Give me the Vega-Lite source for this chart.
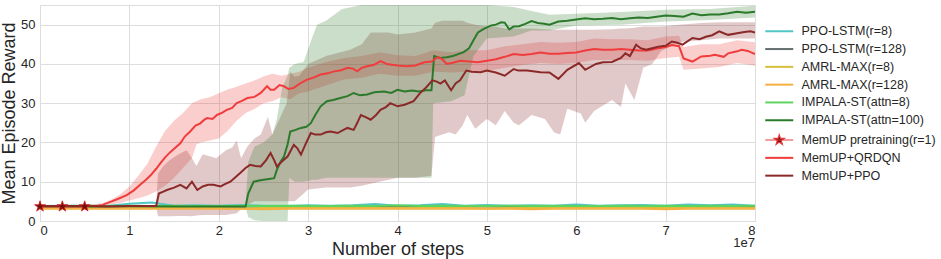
{
  "$schema": "https://vega.github.io/schema/vega-lite/v6.json",
  "width": 715,
  "height": 216,
  "autosize": {"type": "none"},
  "padding": {"left": 40, "top": 5, "right": 186, "bottom": 38},
  "background": "white",
  "config": {
    "font": "Liberation Sans",
    "view": {"stroke": "#dddddd"},
    "axis": {"gridColor": "#dddddd", "gridWidth": 1, "ticks": false, "domain": false, "labelColor": "#262626", "titleColor": "#262626", "titleFontWeight": "normal", "labelFontSize": 13, "titleFontSize": 18}
  },
  "datasets": {
    "bands": [
      {"series":"MemUP+QRDQN","step":0,"lo":3.5,"hi":4.1},
      {"series":"MemUP+QRDQN","step":0.5,"lo":3.5,"hi":4.1},
      {"series":"MemUP+QRDQN","step":0.7,"lo":3.8,"hi":4.5},
      {"series":"MemUP+QRDQN","step":0.8,"lo":4.2,"hi":5.5},
      {"series":"MemUP+QRDQN","step":0.9,"lo":4.6,"hi":6.8},
      {"series":"MemUP+QRDQN","step":1.0,"lo":5.2,"hi":8.8},
      {"series":"MemUP+QRDQN","step":1.1,"lo":5.8,"hi":11.5},
      {"series":"MemUP+QRDQN","step":1.2,"lo":6.5,"hi":14.5},
      {"series":"MemUP+QRDQN","step":1.3,"lo":7.5,"hi":19.0},
      {"series":"MemUP+QRDQN","step":1.4,"lo":9.0,"hi":23.0},
      {"series":"MemUP+QRDQN","step":1.5,"lo":11.0,"hi":25.5},
      {"series":"MemUP+QRDQN","step":1.6,"lo":13.5,"hi":27.5},
      {"series":"MemUP+QRDQN","step":1.7,"lo":16.0,"hi":30.0},
      {"series":"MemUP+QRDQN","step":1.75,"lo":19.5,"hi":30.5},
      {"series":"MemUP+QRDQN","step":1.8,"lo":20.0,"hi":31.0},
      {"series":"MemUP+QRDQN","step":1.9,"lo":20.5,"hi":31.5},
      {"series":"MemUP+QRDQN","step":2.0,"lo":21.0,"hi":32.5},
      {"series":"MemUP+QRDQN","step":2.1,"lo":23.0,"hi":33.5},
      {"series":"MemUP+QRDQN","step":2.2,"lo":25.5,"hi":34.2},
      {"series":"MemUP+QRDQN","step":2.3,"lo":27.5,"hi":35.0},
      {"series":"MemUP+QRDQN","step":2.4,"lo":28.5,"hi":35.8},
      {"series":"MemUP+QRDQN","step":2.5,"lo":30.0,"hi":36.8},
      {"series":"MemUP+QRDQN","step":2.6,"lo":30.5,"hi":37.5},
      {"series":"MemUP+QRDQN","step":2.7,"lo":31.5,"hi":37.0},
      {"series":"MemUP+QRDQN","step":2.8,"lo":31.0,"hi":37.5},
      {"series":"MemUP+QRDQN","step":2.9,"lo":32.5,"hi":38.0},
      {"series":"MemUP+QRDQN","step":3.0,"lo":33.0,"hi":39.0},
      {"series":"MemUP+QRDQN","step":3.2,"lo":34.5,"hi":40.5},
      {"series":"MemUP+QRDQN","step":3.4,"lo":36.0,"hi":41.5},
      {"series":"MemUP+QRDQN","step":3.6,"lo":36.5,"hi":42.0},
      {"series":"MemUP+QRDQN","step":3.8,"lo":37.5,"hi":43.0},
      {"series":"MemUP+QRDQN","step":4.0,"lo":37.0,"hi":42.2},
      {"series":"MemUP+QRDQN","step":4.2,"lo":37.0,"hi":42.0},
      {"series":"MemUP+QRDQN","step":4.4,"lo":38.0,"hi":43.5},
      {"series":"MemUP+QRDQN","step":4.6,"lo":37.8,"hi":43.0},
      {"series":"MemUP+QRDQN","step":4.8,"lo":38.0,"hi":43.5},
      {"series":"MemUP+QRDQN","step":5.0,"lo":38.2,"hi":43.5},
      {"series":"MemUP+QRDQN","step":5.2,"lo":39.0,"hi":44.5},
      {"series":"MemUP+QRDQN","step":5.4,"lo":39.7,"hi":45.0},
      {"series":"MemUP+QRDQN","step":5.6,"lo":40.2,"hi":45.6},
      {"series":"MemUP+QRDQN","step":5.8,"lo":40.0,"hi":45.4},
      {"series":"MemUP+QRDQN","step":6.0,"lo":40.2,"hi":45.6},
      {"series":"MemUP+QRDQN","step":6.2,"lo":41.0,"hi":46.5},
      {"series":"MemUP+QRDQN","step":6.4,"lo":41.0,"hi":46.3},
      {"series":"MemUP+QRDQN","step":6.6,"lo":41.0,"hi":46.3},
      {"series":"MemUP+QRDQN","step":6.8,"lo":40.8,"hi":46.0},
      {"series":"MemUP+QRDQN","step":7.0,"lo":41.5,"hi":47.0},
      {"series":"MemUP+QRDQN","step":7.15,"lo":41.8,"hi":47.2},
      {"series":"MemUP+QRDQN","step":7.2,"lo":38.5,"hi":44.3},
      {"series":"MemUP+QRDQN","step":7.4,"lo":38.8,"hi":45.0},
      {"series":"MemUP+QRDQN","step":7.6,"lo":39.2,"hi":45.0},
      {"series":"MemUP+QRDQN","step":7.8,"lo":40.2,"hi":46.0},
      {"series":"MemUP+QRDQN","step":8.0,"lo":39.5,"hi":45.5},

      {"series":"MemUP+PPO","step":1.3,"lo":3.5,"hi":4.0},
      {"series":"MemUP+PPO","step":1.32,"lo":1.2,"hi":12.0},
      {"series":"MemUP+PPO","step":1.38,"lo":1.2,"hi":14.0},
      {"series":"MemUP+PPO","step":1.45,"lo":1.2,"hi":15.5},
      {"series":"MemUP+PPO","step":1.55,"lo":1.3,"hi":17.0},
      {"series":"MemUP+PPO","step":1.64,"lo":1.3,"hi":18.0},
      {"series":"MemUP+PPO","step":1.7,"lo":1.2,"hi":16.0},
      {"series":"MemUP+PPO","step":1.75,"lo":1.4,"hi":14.0},
      {"series":"MemUP+PPO","step":1.82,"lo":1.5,"hi":17.0},
      {"series":"MemUP+PPO","step":1.9,"lo":1.5,"hi":16.5},
      {"series":"MemUP+PPO","step":1.97,"lo":1.5,"hi":16.0},
      {"series":"MemUP+PPO","step":2.08,"lo":1.5,"hi":18.0},
      {"series":"MemUP+PPO","step":2.15,"lo":1.8,"hi":18.7},
      {"series":"MemUP+PPO","step":2.2,"lo":2.0,"hi":20.5},
      {"series":"MemUP+PPO","step":2.25,"lo":3.0,"hi":16.0},
      {"series":"MemUP+PPO","step":2.32,"lo":4.0,"hi":19.0},
      {"series":"MemUP+PPO","step":2.4,"lo":5.0,"hi":21.0},
      {"series":"MemUP+PPO","step":2.47,"lo":5.0,"hi":22.0},
      {"series":"MemUP+PPO","step":2.55,"lo":5.0,"hi":26.5},
      {"series":"MemUP+PPO","step":2.6,"lo":5.0,"hi":22.0},
      {"series":"MemUP+PPO","step":2.7,"lo":5.0,"hi":27.0},
      {"series":"MemUP+PPO","step":2.76,"lo":5.0,"hi":30.0},
      {"series":"MemUP+PPO","step":2.8,"lo":5.0,"hi":38.0},
      {"series":"MemUP+PPO","step":2.85,"lo":5.0,"hi":36.7},
      {"series":"MemUP+PPO","step":2.9,"lo":6.0,"hi":37.0},
      {"series":"MemUP+PPO","step":3.0,"lo":8.0,"hi":40.0},
      {"series":"MemUP+PPO","step":3.2,"lo":8.5,"hi":42.0},
      {"series":"MemUP+PPO","step":3.47,"lo":8.5,"hi":43.6},
      {"series":"MemUP+PPO","step":3.6,"lo":9.0,"hi":45.0},
      {"series":"MemUP+PPO","step":3.7,"lo":9.5,"hi":48.0},
      {"series":"MemUP+PPO","step":3.9,"lo":10.5,"hi":48.0},
      {"series":"MemUP+PPO","step":4.0,"lo":11.0,"hi":47.5},
      {"series":"MemUP+PPO","step":4.2,"lo":11.0,"hi":48.0},
      {"series":"MemUP+PPO","step":4.38,"lo":11.5,"hi":49.0},
      {"series":"MemUP+PPO","step":4.42,"lo":21.4,"hi":50.5},
      {"series":"MemUP+PPO","step":4.5,"lo":22.0,"hi":51.0},
      {"series":"MemUP+PPO","step":4.58,"lo":22.6,"hi":51.0},
      {"series":"MemUP+PPO","step":4.65,"lo":22.0,"hi":51.0},
      {"series":"MemUP+PPO","step":4.73,"lo":24.4,"hi":51.0},
      {"series":"MemUP+PPO","step":4.78,"lo":27.0,"hi":50.5},
      {"series":"MemUP+PPO","step":4.87,"lo":23.5,"hi":50.0},
      {"series":"MemUP+PPO","step":5.0,"lo":26.0,"hi":49.5},
      {"series":"MemUP+PPO","step":5.1,"lo":24.4,"hi":49.5},
      {"series":"MemUP+PPO","step":5.2,"lo":28.0,"hi":49.0},
      {"series":"MemUP+PPO","step":5.3,"lo":25.0,"hi":49.0},
      {"series":"MemUP+PPO","step":5.36,"lo":24.4,"hi":49.0},
      {"series":"MemUP+PPO","step":5.5,"lo":27.0,"hi":49.0},
      {"series":"MemUP+PPO","step":5.65,"lo":26.0,"hi":48.8},
      {"series":"MemUP+PPO","step":5.75,"lo":22.6,"hi":48.7},
      {"series":"MemUP+PPO","step":5.82,"lo":22.0,"hi":48.7},
      {"series":"MemUP+PPO","step":5.9,"lo":28.6,"hi":48.7},
      {"series":"MemUP+PPO","step":6.05,"lo":27.4,"hi":48.7},
      {"series":"MemUP+PPO","step":6.1,"lo":25.0,"hi":48.7},
      {"series":"MemUP+PPO","step":6.2,"lo":28.0,"hi":48.7},
      {"series":"MemUP+PPO","step":6.4,"lo":30.8,"hi":48.8},
      {"series":"MemUP+PPO","step":6.5,"lo":29.0,"hi":49.0},
      {"series":"MemUP+PPO","step":6.55,"lo":35.0,"hi":49.0},
      {"series":"MemUP+PPO","step":6.65,"lo":30.8,"hi":49.2},
      {"series":"MemUP+PPO","step":6.75,"lo":39.0,"hi":49.5},
      {"series":"MemUP+PPO","step":6.85,"lo":40.0,"hi":49.5},
      {"series":"MemUP+PPO","step":6.95,"lo":43.3,"hi":49.5},
      {"series":"MemUP+PPO","step":7.15,"lo":45.5,"hi":50.0},
      {"series":"MemUP+PPO","step":7.4,"lo":46.0,"hi":50.4},
      {"series":"MemUP+PPO","step":7.6,"lo":46.5,"hi":50.6},
      {"series":"MemUP+PPO","step":8.0,"lo":46.5,"hi":50.6},

      {"series":"IMPALA-ST(attn=100)","step":2.3,"lo":3.5,"hi":4.0},
      {"series":"IMPALA-ST(attn=100)","step":2.33,"lo":1.0,"hi":15.0},
      {"series":"IMPALA-ST(attn=100)","step":2.4,"lo":0.2,"hi":19.0},
      {"series":"IMPALA-ST(attn=100)","step":2.5,"lo":0.0,"hi":20.0},
      {"series":"IMPALA-ST(attn=100)","step":2.6,"lo":0.0,"hi":22.0},
      {"series":"IMPALA-ST(attn=100)","step":2.65,"lo":0.0,"hi":26.0},
      {"series":"IMPALA-ST(attn=100)","step":2.71,"lo":0.0,"hi":34.0},
      {"series":"IMPALA-ST(attn=100)","step":2.77,"lo":0.0,"hi":37.0},
      {"series":"IMPALA-ST(attn=100)","step":2.79,"lo":11.0,"hi":39.0},
      {"series":"IMPALA-ST(attn=100)","step":2.85,"lo":10.0,"hi":40.0},
      {"series":"IMPALA-ST(attn=100)","step":2.95,"lo":10.0,"hi":40.5},
      {"series":"IMPALA-ST(attn=100)","step":3.05,"lo":10.5,"hi":47.0},
      {"series":"IMPALA-ST(attn=100)","step":3.1,"lo":10.5,"hi":50.0},
      {"series":"IMPALA-ST(attn=100)","step":3.2,"lo":11.0,"hi":51.0},
      {"series":"IMPALA-ST(attn=100)","step":3.38,"lo":11.0,"hi":54.0},
      {"series":"IMPALA-ST(attn=100)","step":3.6,"lo":11.0,"hi":55.0},
      {"series":"IMPALA-ST(attn=100)","step":4.38,"lo":11.0,"hi":55.0},
      {"series":"IMPALA-ST(attn=100)","step":4.4,"lo":30.0,"hi":55.0},
      {"series":"IMPALA-ST(attn=100)","step":4.6,"lo":30.5,"hi":55.0},
      {"series":"IMPALA-ST(attn=100)","step":4.75,"lo":32.0,"hi":55.0},
      {"series":"IMPALA-ST(attn=100)","step":4.85,"lo":42.0,"hi":55.0},
      {"series":"IMPALA-ST(attn=100)","step":5.0,"lo":46.5,"hi":55.0},
      {"series":"IMPALA-ST(attn=100)","step":5.3,"lo":47.0,"hi":54.5},
      {"series":"IMPALA-ST(attn=100)","step":5.5,"lo":48.5,"hi":53.5},
      {"series":"IMPALA-ST(attn=100)","step":5.7,"lo":48.5,"hi":52.5},
      {"series":"IMPALA-ST(attn=100)","step":6.0,"lo":49.8,"hi":52.8},
      {"series":"IMPALA-ST(attn=100)","step":6.5,"lo":50.0,"hi":53.2},
      {"series":"IMPALA-ST(attn=100)","step":7.0,"lo":50.8,"hi":53.8},
      {"series":"IMPALA-ST(attn=100)","step":7.5,"lo":51.2,"hi":54.0},
      {"series":"IMPALA-ST(attn=100)","step":8.0,"lo":51.8,"hi":54.8}
    ],
    "curves": [
      {"series":"PPO-LSTM(r=8)","step":0,"reward":3.8},{"series":"PPO-LSTM(r=8)","step":0.25,"reward":3.9},{"series":"PPO-LSTM(r=8)","step":0.5,"reward":3.9},{"series":"PPO-LSTM(r=8)","step":0.75,"reward":3.8},{"series":"PPO-LSTM(r=8)","step":1.0,"reward":4.4},{"series":"PPO-LSTM(r=8)","step":1.25,"reward":4.7},{"series":"PPO-LSTM(r=8)","step":1.5,"reward":3.9},{"series":"PPO-LSTM(r=8)","step":1.75,"reward":4.0},{"series":"PPO-LSTM(r=8)","step":2.0,"reward":3.9},{"series":"PPO-LSTM(r=8)","step":2.25,"reward":4.1},{"series":"PPO-LSTM(r=8)","step":2.5,"reward":3.9},{"series":"PPO-LSTM(r=8)","step":2.75,"reward":3.8},{"series":"PPO-LSTM(r=8)","step":3.0,"reward":4.0},{"series":"PPO-LSTM(r=8)","step":3.25,"reward":3.9},{"series":"PPO-LSTM(r=8)","step":3.5,"reward":4.0},{"series":"PPO-LSTM(r=8)","step":3.75,"reward":4.3},{"series":"PPO-LSTM(r=8)","step":4.0,"reward":3.9},{"series":"PPO-LSTM(r=8)","step":4.25,"reward":4.0},{"series":"PPO-LSTM(r=8)","step":4.5,"reward":4.3},{"series":"PPO-LSTM(r=8)","step":4.75,"reward":3.9},{"series":"PPO-LSTM(r=8)","step":5.0,"reward":4.1},{"series":"PPO-LSTM(r=8)","step":5.25,"reward":3.9},{"series":"PPO-LSTM(r=8)","step":5.5,"reward":4.0},{"series":"PPO-LSTM(r=8)","step":5.75,"reward":3.9},{"series":"PPO-LSTM(r=8)","step":6.0,"reward":4.2},{"series":"PPO-LSTM(r=8)","step":6.25,"reward":3.9},{"series":"PPO-LSTM(r=8)","step":6.5,"reward":4.0},{"series":"PPO-LSTM(r=8)","step":6.75,"reward":4.1},{"series":"PPO-LSTM(r=8)","step":7.0,"reward":3.9},{"series":"PPO-LSTM(r=8)","step":7.25,"reward":4.2},{"series":"PPO-LSTM(r=8)","step":7.5,"reward":4.0},{"series":"PPO-LSTM(r=8)","step":7.75,"reward":4.2},{"series":"PPO-LSTM(r=8)","step":8.0,"reward":3.9},
      {"series":"PPO-LSTM(r=128)","step":0,"reward":3.7},{"series":"PPO-LSTM(r=128)","step":0.25,"reward":3.6},{"series":"PPO-LSTM(r=128)","step":0.5,"reward":3.7},{"series":"PPO-LSTM(r=128)","step":0.75,"reward":3.6},{"series":"PPO-LSTM(r=128)","step":1.0,"reward":3.7},{"series":"PPO-LSTM(r=128)","step":1.25,"reward":3.7},{"series":"PPO-LSTM(r=128)","step":1.5,"reward":3.6},{"series":"PPO-LSTM(r=128)","step":1.75,"reward":3.7},{"series":"PPO-LSTM(r=128)","step":2.0,"reward":3.6},{"series":"PPO-LSTM(r=128)","step":2.25,"reward":3.7},{"series":"PPO-LSTM(r=128)","step":2.5,"reward":3.7},{"series":"PPO-LSTM(r=128)","step":2.75,"reward":3.6},{"series":"PPO-LSTM(r=128)","step":3.0,"reward":3.7},{"series":"PPO-LSTM(r=128)","step":3.25,"reward":3.6},{"series":"PPO-LSTM(r=128)","step":3.5,"reward":3.7},{"series":"PPO-LSTM(r=128)","step":3.75,"reward":3.7},{"series":"PPO-LSTM(r=128)","step":4.0,"reward":3.6},{"series":"PPO-LSTM(r=128)","step":4.25,"reward":3.7},{"series":"PPO-LSTM(r=128)","step":4.5,"reward":3.6},{"series":"PPO-LSTM(r=128)","step":4.75,"reward":3.7},{"series":"PPO-LSTM(r=128)","step":5.0,"reward":3.7},{"series":"PPO-LSTM(r=128)","step":5.25,"reward":3.6},{"series":"PPO-LSTM(r=128)","step":5.5,"reward":3.7},{"series":"PPO-LSTM(r=128)","step":5.75,"reward":3.6},{"series":"PPO-LSTM(r=128)","step":6.0,"reward":3.7},{"series":"PPO-LSTM(r=128)","step":6.25,"reward":3.7},{"series":"PPO-LSTM(r=128)","step":6.5,"reward":3.6},{"series":"PPO-LSTM(r=128)","step":6.75,"reward":3.7},{"series":"PPO-LSTM(r=128)","step":7.0,"reward":3.6},{"series":"PPO-LSTM(r=128)","step":7.25,"reward":3.7},{"series":"PPO-LSTM(r=128)","step":7.5,"reward":3.7},{"series":"PPO-LSTM(r=128)","step":7.75,"reward":3.6},{"series":"PPO-LSTM(r=128)","step":8.0,"reward":3.7},
      {"series":"AMRL-MAX(r=8)","step":0,"reward":3.3},{"series":"AMRL-MAX(r=8)","step":0.25,"reward":3.3},{"series":"AMRL-MAX(r=8)","step":0.5,"reward":3.4},{"series":"AMRL-MAX(r=8)","step":0.75,"reward":3.3},{"series":"AMRL-MAX(r=8)","step":1.0,"reward":3.3},{"series":"AMRL-MAX(r=8)","step":1.25,"reward":3.3},{"series":"AMRL-MAX(r=8)","step":1.5,"reward":3.4},{"series":"AMRL-MAX(r=8)","step":1.75,"reward":3.3},{"series":"AMRL-MAX(r=8)","step":2.0,"reward":3.3},{"series":"AMRL-MAX(r=8)","step":2.25,"reward":3.2},{"series":"AMRL-MAX(r=8)","step":2.5,"reward":3.3},{"series":"AMRL-MAX(r=8)","step":2.75,"reward":3.3},{"series":"AMRL-MAX(r=8)","step":3.0,"reward":3.4},{"series":"AMRL-MAX(r=8)","step":3.25,"reward":3.3},{"series":"AMRL-MAX(r=8)","step":3.5,"reward":3.3},{"series":"AMRL-MAX(r=8)","step":3.75,"reward":3.3},{"series":"AMRL-MAX(r=8)","step":4.0,"reward":3.4},{"series":"AMRL-MAX(r=8)","step":4.25,"reward":3.3},{"series":"AMRL-MAX(r=8)","step":4.5,"reward":3.3},{"series":"AMRL-MAX(r=8)","step":4.75,"reward":3.3},{"series":"AMRL-MAX(r=8)","step":5.0,"reward":3.2},{"series":"AMRL-MAX(r=8)","step":5.25,"reward":3.3},{"series":"AMRL-MAX(r=8)","step":5.5,"reward":3.4},{"series":"AMRL-MAX(r=8)","step":5.75,"reward":3.3},{"series":"AMRL-MAX(r=8)","step":6.0,"reward":3.3},{"series":"AMRL-MAX(r=8)","step":6.25,"reward":3.3},{"series":"AMRL-MAX(r=8)","step":6.5,"reward":3.4},{"series":"AMRL-MAX(r=8)","step":6.75,"reward":3.3},{"series":"AMRL-MAX(r=8)","step":7.0,"reward":3.3},{"series":"AMRL-MAX(r=8)","step":7.25,"reward":3.3},{"series":"AMRL-MAX(r=8)","step":7.5,"reward":3.3},{"series":"AMRL-MAX(r=8)","step":7.75,"reward":3.4},{"series":"AMRL-MAX(r=8)","step":8.0,"reward":3.3},
      {"series":"AMRL-MAX(r=128)","step":0,"reward":3.1},{"series":"AMRL-MAX(r=128)","step":0.25,"reward":3.2},{"series":"AMRL-MAX(r=128)","step":0.5,"reward":3.1},{"series":"AMRL-MAX(r=128)","step":0.75,"reward":3.1},{"series":"AMRL-MAX(r=128)","step":1.0,"reward":3.2},{"series":"AMRL-MAX(r=128)","step":1.25,"reward":3.1},{"series":"AMRL-MAX(r=128)","step":1.5,"reward":3.1},{"series":"AMRL-MAX(r=128)","step":1.75,"reward":3.2},{"series":"AMRL-MAX(r=128)","step":2.0,"reward":3.1},{"series":"AMRL-MAX(r=128)","step":2.25,"reward":3.1},{"series":"AMRL-MAX(r=128)","step":2.5,"reward":3.0},{"series":"AMRL-MAX(r=128)","step":2.75,"reward":3.1},{"series":"AMRL-MAX(r=128)","step":3.0,"reward":3.2},{"series":"AMRL-MAX(r=128)","step":3.25,"reward":3.1},{"series":"AMRL-MAX(r=128)","step":3.5,"reward":3.1},{"series":"AMRL-MAX(r=128)","step":3.75,"reward":3.2},{"series":"AMRL-MAX(r=128)","step":4.0,"reward":3.1},{"series":"AMRL-MAX(r=128)","step":4.25,"reward":3.1},{"series":"AMRL-MAX(r=128)","step":4.5,"reward":3.1},{"series":"AMRL-MAX(r=128)","step":4.75,"reward":3.2},{"series":"AMRL-MAX(r=128)","step":5.0,"reward":3.1},{"series":"AMRL-MAX(r=128)","step":5.25,"reward":3.1},{"series":"AMRL-MAX(r=128)","step":5.5,"reward":3.0},{"series":"AMRL-MAX(r=128)","step":5.75,"reward":3.1},{"series":"AMRL-MAX(r=128)","step":6.0,"reward":3.2},{"series":"AMRL-MAX(r=128)","step":6.25,"reward":3.1},{"series":"AMRL-MAX(r=128)","step":6.5,"reward":3.1},{"series":"AMRL-MAX(r=128)","step":6.75,"reward":3.1},{"series":"AMRL-MAX(r=128)","step":7.0,"reward":3.0},{"series":"AMRL-MAX(r=128)","step":7.25,"reward":3.1},{"series":"AMRL-MAX(r=128)","step":7.5,"reward":3.1},{"series":"AMRL-MAX(r=128)","step":7.75,"reward":3.2},{"series":"AMRL-MAX(r=128)","step":8.0,"reward":3.1},
      {"series":"IMPALA-ST(attn=8)","step":0,"reward":3.8},{"series":"IMPALA-ST(attn=8)","step":0.25,"reward":3.8},{"series":"IMPALA-ST(attn=8)","step":0.5,"reward":3.9},{"series":"IMPALA-ST(attn=8)","step":0.75,"reward":3.8},{"series":"IMPALA-ST(attn=8)","step":1.0,"reward":3.9},{"series":"IMPALA-ST(attn=8)","step":1.25,"reward":3.8},{"series":"IMPALA-ST(attn=8)","step":1.5,"reward":3.9},{"series":"IMPALA-ST(attn=8)","step":1.75,"reward":3.8},{"series":"IMPALA-ST(attn=8)","step":2.0,"reward":3.8},{"series":"IMPALA-ST(attn=8)","step":2.25,"reward":3.9},{"series":"IMPALA-ST(attn=8)","step":2.5,"reward":3.8},{"series":"IMPALA-ST(attn=8)","step":2.75,"reward":3.9},{"series":"IMPALA-ST(attn=8)","step":3.0,"reward":3.8},{"series":"IMPALA-ST(attn=8)","step":3.25,"reward":3.8},{"series":"IMPALA-ST(attn=8)","step":3.5,"reward":3.9},{"series":"IMPALA-ST(attn=8)","step":3.75,"reward":3.8},{"series":"IMPALA-ST(attn=8)","step":4.0,"reward":4.0},{"series":"IMPALA-ST(attn=8)","step":4.25,"reward":3.8},{"series":"IMPALA-ST(attn=8)","step":4.5,"reward":3.9},{"series":"IMPALA-ST(attn=8)","step":4.75,"reward":3.8},{"series":"IMPALA-ST(attn=8)","step":5.0,"reward":3.8},{"series":"IMPALA-ST(attn=8)","step":5.25,"reward":3.9},{"series":"IMPALA-ST(attn=8)","step":5.5,"reward":3.8},{"series":"IMPALA-ST(attn=8)","step":5.75,"reward":3.9},{"series":"IMPALA-ST(attn=8)","step":6.0,"reward":3.8},{"series":"IMPALA-ST(attn=8)","step":6.25,"reward":3.8},{"series":"IMPALA-ST(attn=8)","step":6.5,"reward":3.9},{"series":"IMPALA-ST(attn=8)","step":6.75,"reward":3.8},{"series":"IMPALA-ST(attn=8)","step":7.0,"reward":3.9},{"series":"IMPALA-ST(attn=8)","step":7.25,"reward":3.8},{"series":"IMPALA-ST(attn=8)","step":7.5,"reward":3.9},{"series":"IMPALA-ST(attn=8)","step":7.75,"reward":3.8},{"series":"IMPALA-ST(attn=8)","step":8.0,"reward":3.9},
      {"series":"IMPALA-ST(attn=100)","step":0,"reward":3.7},{"series":"IMPALA-ST(attn=100)","step":0.5,"reward":3.7},{"series":"IMPALA-ST(attn=100)","step":1.0,"reward":3.75},{"series":"IMPALA-ST(attn=100)","step":1.5,"reward":3.7},{"series":"IMPALA-ST(attn=100)","step":2.0,"reward":3.7},{"series":"IMPALA-ST(attn=100)","step":2.3,"reward":3.7},{"series":"IMPALA-ST(attn=100)","step":2.33,"reward":7.0},{"series":"IMPALA-ST(attn=100)","step":2.39,"reward":10.0},{"series":"IMPALA-ST(attn=100)","step":2.45,"reward":10.3},{"series":"IMPALA-ST(attn=100)","step":2.5,"reward":10.5},{"series":"IMPALA-ST(attn=100)","step":2.56,"reward":10.7},{"series":"IMPALA-ST(attn=100)","step":2.62,"reward":10.9},{"series":"IMPALA-ST(attn=100)","step":2.65,"reward":13.0},{"series":"IMPALA-ST(attn=100)","step":2.69,"reward":15.0},{"series":"IMPALA-ST(attn=100)","step":2.73,"reward":16.4},{"series":"IMPALA-ST(attn=100)","step":2.77,"reward":19.5},{"series":"IMPALA-ST(attn=100)","step":2.8,"reward":22.8},{"series":"IMPALA-ST(attn=100)","step":2.86,"reward":23.2},{"series":"IMPALA-ST(attn=100)","step":2.92,"reward":23.7},{"series":"IMPALA-ST(attn=100)","step":2.98,"reward":24.0},{"series":"IMPALA-ST(attn=100)","step":3.03,"reward":24.9},{"series":"IMPALA-ST(attn=100)","step":3.08,"reward":27.0},{"series":"IMPALA-ST(attn=100)","step":3.14,"reward":29.2},{"series":"IMPALA-ST(attn=100)","step":3.21,"reward":30.5},{"series":"IMPALA-ST(attn=100)","step":3.28,"reward":30.8},{"series":"IMPALA-ST(attn=100)","step":3.36,"reward":31.3},{"series":"IMPALA-ST(attn=100)","step":3.44,"reward":31.8},{"series":"IMPALA-ST(attn=100)","step":3.51,"reward":32.6},{"series":"IMPALA-ST(attn=100)","step":3.58,"reward":32.0},{"series":"IMPALA-ST(attn=100)","step":3.66,"reward":32.2},{"series":"IMPALA-ST(attn=100)","step":3.74,"reward":32.8},{"series":"IMPALA-ST(attn=100)","step":3.85,"reward":33.0},{"series":"IMPALA-ST(attn=100)","step":3.93,"reward":32.6},{"series":"IMPALA-ST(attn=100)","step":4.0,"reward":33.4},{"series":"IMPALA-ST(attn=100)","step":4.08,"reward":33.0},{"series":"IMPALA-ST(attn=100)","step":4.16,"reward":33.2},{"series":"IMPALA-ST(attn=100)","step":4.24,"reward":33.0},{"series":"IMPALA-ST(attn=100)","step":4.32,"reward":33.3},{"series":"IMPALA-ST(attn=100)","step":4.38,"reward":33.3},{"series":"IMPALA-ST(attn=100)","step":4.41,"reward":42.0},{"series":"IMPALA-ST(attn=100)","step":4.48,"reward":41.5},{"series":"IMPALA-ST(attn=100)","step":4.55,"reward":41.7},{"series":"IMPALA-ST(attn=100)","step":4.62,"reward":42.0},{"series":"IMPALA-ST(attn=100)","step":4.68,"reward":42.5},{"series":"IMPALA-ST(attn=100)","step":4.74,"reward":43.0},{"series":"IMPALA-ST(attn=100)","step":4.8,"reward":44.0},{"series":"IMPALA-ST(attn=100)","step":4.85,"reward":46.0},{"series":"IMPALA-ST(attn=100)","step":4.9,"reward":48.0},{"series":"IMPALA-ST(attn=100)","step":4.97,"reward":49.0},{"series":"IMPALA-ST(attn=100)","step":5.05,"reward":49.8},{"series":"IMPALA-ST(attn=100)","step":5.1,"reward":50.0},{"series":"IMPALA-ST(attn=100)","step":5.16,"reward":50.6},{"series":"IMPALA-ST(attn=100)","step":5.2,"reward":50.5},{"series":"IMPALA-ST(attn=100)","step":5.25,"reward":48.8},{"series":"IMPALA-ST(attn=100)","step":5.3,"reward":49.5},{"series":"IMPALA-ST(attn=100)","step":5.36,"reward":49.6},{"series":"IMPALA-ST(attn=100)","step":5.43,"reward":50.2},{"series":"IMPALA-ST(attn=100)","step":5.5,"reward":50.9},{"series":"IMPALA-ST(attn=100)","step":5.57,"reward":50.4},{"series":"IMPALA-ST(attn=100)","step":5.64,"reward":50.2},{"series":"IMPALA-ST(attn=100)","step":5.7,"reward":50.0},{"series":"IMPALA-ST(attn=100)","step":5.8,"reward":50.8},{"series":"IMPALA-ST(attn=100)","step":5.9,"reward":51.0},{"series":"IMPALA-ST(attn=100)","step":6.0,"reward":51.3},{"series":"IMPALA-ST(attn=100)","step":6.1,"reward":51.6},{"series":"IMPALA-ST(attn=100)","step":6.2,"reward":51.4},{"series":"IMPALA-ST(attn=100)","step":6.3,"reward":51.5},{"series":"IMPALA-ST(attn=100)","step":6.4,"reward":51.7},{"series":"IMPALA-ST(attn=100)","step":6.5,"reward":51.4},{"series":"IMPALA-ST(attn=100)","step":6.6,"reward":51.6},{"series":"IMPALA-ST(attn=100)","step":6.7,"reward":51.8},{"series":"IMPALA-ST(attn=100)","step":6.8,"reward":51.7},{"series":"IMPALA-ST(attn=100)","step":6.9,"reward":52.0},{"series":"IMPALA-ST(attn=100)","step":7.0,"reward":52.3},{"series":"IMPALA-ST(attn=100)","step":7.1,"reward":52.2},{"series":"IMPALA-ST(attn=100)","step":7.2,"reward":52.0},{"series":"IMPALA-ST(attn=100)","step":7.3,"reward":52.8},{"series":"IMPALA-ST(attn=100)","step":7.4,"reward":52.4},{"series":"IMPALA-ST(attn=100)","step":7.5,"reward":52.6},{"series":"IMPALA-ST(attn=100)","step":7.6,"reward":52.6},{"series":"IMPALA-ST(attn=100)","step":7.7,"reward":52.9},{"series":"IMPALA-ST(attn=100)","step":7.8,"reward":53.3},{"series":"IMPALA-ST(attn=100)","step":7.9,"reward":53.0},{"series":"IMPALA-ST(attn=100)","step":8.0,"reward":53.3},
      {"series":"MemUP pretraining(r=1)","step":0,"reward":3.7},{"series":"MemUP pretraining(r=1)","step":0.25,"reward":3.7},{"series":"MemUP pretraining(r=1)","step":0.5,"reward":3.7},
      {"series":"MemUP+QRDQN","step":0,"reward":3.8},{"series":"MemUP+QRDQN","step":0.25,"reward":3.8},{"series":"MemUP+QRDQN","step":0.5,"reward":3.8},{"series":"MemUP+QRDQN","step":0.63,"reward":3.8},{"series":"MemUP+QRDQN","step":0.7,"reward":4.1},{"series":"MemUP+QRDQN","step":0.78,"reward":4.8},{"series":"MemUP+QRDQN","step":0.87,"reward":5.6},{"series":"MemUP+QRDQN","step":0.97,"reward":6.6},{"series":"MemUP+QRDQN","step":1.05,"reward":7.8},{"series":"MemUP+QRDQN","step":1.12,"reward":9.2},{"series":"MemUP+QRDQN","step":1.18,"reward":10.4},{"series":"MemUP+QRDQN","step":1.24,"reward":11.7},{"series":"MemUP+QRDQN","step":1.3,"reward":13.3},{"series":"MemUP+QRDQN","step":1.35,"reward":14.8},{"series":"MemUP+QRDQN","step":1.4,"reward":16.2},{"series":"MemUP+QRDQN","step":1.46,"reward":17.6},{"series":"MemUP+QRDQN","step":1.52,"reward":18.8},{"series":"MemUP+QRDQN","step":1.57,"reward":19.8},{"series":"MemUP+QRDQN","step":1.62,"reward":21.5},{"series":"MemUP+QRDQN","step":1.68,"reward":22.8},{"series":"MemUP+QRDQN","step":1.74,"reward":24.3},{"series":"MemUP+QRDQN","step":1.79,"reward":24.8},{"series":"MemUP+QRDQN","step":1.84,"reward":25.8},{"series":"MemUP+QRDQN","step":1.87,"reward":26.2},{"series":"MemUP+QRDQN","step":1.93,"reward":26.0},{"series":"MemUP+QRDQN","step":1.98,"reward":27.0},{"series":"MemUP+QRDQN","step":2.04,"reward":27.6},{"series":"MemUP+QRDQN","step":2.09,"reward":28.3},{"series":"MemUP+QRDQN","step":2.15,"reward":28.8},{"series":"MemUP+QRDQN","step":2.2,"reward":30.0},{"series":"MemUP+QRDQN","step":2.26,"reward":30.6},{"series":"MemUP+QRDQN","step":2.32,"reward":31.3},{"series":"MemUP+QRDQN","step":2.4,"reward":31.6},{"series":"MemUP+QRDQN","step":2.47,"reward":32.6},{"series":"MemUP+QRDQN","step":2.54,"reward":34.3},{"series":"MemUP+QRDQN","step":2.58,"reward":33.4},{"series":"MemUP+QRDQN","step":2.62,"reward":33.4},{"series":"MemUP+QRDQN","step":2.68,"reward":34.6},{"series":"MemUP+QRDQN","step":2.73,"reward":34.3},{"series":"MemUP+QRDQN","step":2.78,"reward":33.6},{"series":"MemUP+QRDQN","step":2.84,"reward":33.9},{"series":"MemUP+QRDQN","step":2.92,"reward":35.2},{"series":"MemUP+QRDQN","step":2.99,"reward":36.0},{"series":"MemUP+QRDQN","step":3.06,"reward":36.5},{"series":"MemUP+QRDQN","step":3.14,"reward":37.3},{"series":"MemUP+QRDQN","step":3.22,"reward":37.6},{"series":"MemUP+QRDQN","step":3.29,"reward":38.1},{"series":"MemUP+QRDQN","step":3.37,"reward":38.4},{"series":"MemUP+QRDQN","step":3.44,"reward":39.0},{"series":"MemUP+QRDQN","step":3.5,"reward":38.8},{"series":"MemUP+QRDQN","step":3.55,"reward":38.1},{"series":"MemUP+QRDQN","step":3.6,"reward":39.0},{"series":"MemUP+QRDQN","step":3.66,"reward":39.4},{"series":"MemUP+QRDQN","step":3.74,"reward":39.8},{"series":"MemUP+QRDQN","step":3.81,"reward":40.7},{"series":"MemUP+QRDQN","step":3.88,"reward":40.0},{"series":"MemUP+QRDQN","step":4.0,"reward":39.6},{"series":"MemUP+QRDQN","step":4.1,"reward":39.4},{"series":"MemUP+QRDQN","step":4.2,"reward":39.6},{"series":"MemUP+QRDQN","step":4.3,"reward":40.4},{"series":"MemUP+QRDQN","step":4.38,"reward":40.6},{"series":"MemUP+QRDQN","step":4.45,"reward":41.7},{"series":"MemUP+QRDQN","step":4.5,"reward":41.2},{"series":"MemUP+QRDQN","step":4.55,"reward":40.0},{"series":"MemUP+QRDQN","step":4.62,"reward":40.3},{"series":"MemUP+QRDQN","step":4.7,"reward":40.8},{"series":"MemUP+QRDQN","step":4.8,"reward":40.6},{"series":"MemUP+QRDQN","step":4.9,"reward":40.4},{"series":"MemUP+QRDQN","step":5.0,"reward":40.8},{"series":"MemUP+QRDQN","step":5.1,"reward":41.2},{"series":"MemUP+QRDQN","step":5.2,"reward":41.8},{"series":"MemUP+QRDQN","step":5.3,"reward":42.5},{"series":"MemUP+QRDQN","step":5.4,"reward":42.3},{"series":"MemUP+QRDQN","step":5.5,"reward":42.5},{"series":"MemUP+QRDQN","step":5.6,"reward":42.9},{"series":"MemUP+QRDQN","step":5.7,"reward":42.6},{"series":"MemUP+QRDQN","step":5.8,"reward":42.6},{"series":"MemUP+QRDQN","step":5.9,"reward":42.8},{"series":"MemUP+QRDQN","step":6.0,"reward":42.9},{"series":"MemUP+QRDQN","step":6.1,"reward":43.4},{"series":"MemUP+QRDQN","step":6.2,"reward":43.8},{"series":"MemUP+QRDQN","step":6.3,"reward":43.6},{"series":"MemUP+QRDQN","step":6.4,"reward":43.6},{"series":"MemUP+QRDQN","step":6.5,"reward":43.8},{"series":"MemUP+QRDQN","step":6.6,"reward":43.6},{"series":"MemUP+QRDQN","step":6.7,"reward":43.4},{"series":"MemUP+QRDQN","step":6.8,"reward":43.4},{"series":"MemUP+QRDQN","step":6.9,"reward":43.9},{"series":"MemUP+QRDQN","step":7.0,"reward":44.3},{"series":"MemUP+QRDQN","step":7.07,"reward":44.8},{"series":"MemUP+QRDQN","step":7.15,"reward":44.5},{"series":"MemUP+QRDQN","step":7.2,"reward":41.4},{"series":"MemUP+QRDQN","step":7.3,"reward":40.6},{"series":"MemUP+QRDQN","step":7.4,"reward":41.9},{"series":"MemUP+QRDQN","step":7.5,"reward":42.1},{"series":"MemUP+QRDQN","step":7.55,"reward":42.3},{"series":"MemUP+QRDQN","step":7.65,"reward":41.8},{"series":"MemUP+QRDQN","step":7.7,"reward":42.7},{"series":"MemUP+QRDQN","step":7.8,"reward":43.2},{"series":"MemUP+QRDQN","step":7.85,"reward":43.6},{"series":"MemUP+QRDQN","step":7.92,"reward":43.3},{"series":"MemUP+QRDQN","step":8.0,"reward":42.5},
      {"series":"MemUP+PPO","step":0,"reward":3.8},{"series":"MemUP+PPO","step":0.25,"reward":3.8},{"series":"MemUP+PPO","step":0.5,"reward":3.8},{"series":"MemUP+PPO","step":0.75,"reward":3.7},{"series":"MemUP+PPO","step":1.0,"reward":3.8},{"series":"MemUP+PPO","step":1.2,"reward":3.8},{"series":"MemUP+PPO","step":1.3,"reward":3.8},{"series":"MemUP+PPO","step":1.33,"reward":7.0},{"series":"MemUP+PPO","step":1.38,"reward":7.5},{"series":"MemUP+PPO","step":1.42,"reward":7.9},{"series":"MemUP+PPO","step":1.5,"reward":8.5},{"series":"MemUP+PPO","step":1.57,"reward":9.2},{"series":"MemUP+PPO","step":1.64,"reward":8.3},{"series":"MemUP+PPO","step":1.7,"reward":10.0},{"series":"MemUP+PPO","step":1.76,"reward":7.9},{"series":"MemUP+PPO","step":1.82,"reward":8.8},{"series":"MemUP+PPO","step":1.88,"reward":9.2},{"series":"MemUP+PPO","step":1.94,"reward":9.2},{"series":"MemUP+PPO","step":2.02,"reward":8.8},{"series":"MemUP+PPO","step":2.08,"reward":9.5},{"series":"MemUP+PPO","step":2.13,"reward":10.0},{"series":"MemUP+PPO","step":2.18,"reward":11.0},{"series":"MemUP+PPO","step":2.24,"reward":12.2},{"series":"MemUP+PPO","step":2.3,"reward":13.5},{"series":"MemUP+PPO","step":2.35,"reward":14.3},{"series":"MemUP+PPO","step":2.41,"reward":14.0},{"series":"MemUP+PPO","step":2.47,"reward":13.9},{"series":"MemUP+PPO","step":2.53,"reward":15.5},{"series":"MemUP+PPO","step":2.58,"reward":17.3},{"series":"MemUP+PPO","step":2.62,"reward":15.5},{"series":"MemUP+PPO","step":2.65,"reward":13.9},{"series":"MemUP+PPO","step":2.7,"reward":15.0},{"series":"MemUP+PPO","step":2.77,"reward":16.4},{"series":"MemUP+PPO","step":2.84,"reward":19.4},{"series":"MemUP+PPO","step":2.88,"reward":18.5},{"series":"MemUP+PPO","step":2.92,"reward":16.9},{"series":"MemUP+PPO","step":2.97,"reward":19.5},{"series":"MemUP+PPO","step":3.03,"reward":22.4},{"series":"MemUP+PPO","step":3.08,"reward":22.0},{"series":"MemUP+PPO","step":3.14,"reward":22.0},{"series":"MemUP+PPO","step":3.2,"reward":22.6},{"series":"MemUP+PPO","step":3.25,"reward":22.8},{"series":"MemUP+PPO","step":3.33,"reward":22.4},{"series":"MemUP+PPO","step":3.38,"reward":23.0},{"series":"MemUP+PPO","step":3.44,"reward":23.7},{"series":"MemUP+PPO","step":3.51,"reward":23.2},{"series":"MemUP+PPO","step":3.55,"reward":25.0},{"series":"MemUP+PPO","step":3.59,"reward":27.0},{"series":"MemUP+PPO","step":3.65,"reward":26.4},{"series":"MemUP+PPO","step":3.7,"reward":25.8},{"series":"MemUP+PPO","step":3.76,"reward":27.0},{"series":"MemUP+PPO","step":3.81,"reward":28.3},{"series":"MemUP+PPO","step":3.87,"reward":29.0},{"series":"MemUP+PPO","step":3.92,"reward":30.0},{"series":"MemUP+PPO","step":4.0,"reward":29.2},{"series":"MemUP+PPO","step":4.08,"reward":29.6},{"series":"MemUP+PPO","step":4.18,"reward":30.5},{"series":"MemUP+PPO","step":4.25,"reward":32.5},{"series":"MemUP+PPO","step":4.32,"reward":34.0},{"series":"MemUP+PPO","step":4.39,"reward":35.8},{"series":"MemUP+PPO","step":4.44,"reward":35.5},{"series":"MemUP+PPO","step":4.48,"reward":35.0},{"series":"MemUP+PPO","step":4.53,"reward":35.8},{"series":"MemUP+PPO","step":4.6,"reward":33.3},{"series":"MemUP+PPO","step":4.65,"reward":35.0},{"series":"MemUP+PPO","step":4.7,"reward":35.8},{"series":"MemUP+PPO","step":4.77,"reward":38.3},{"series":"MemUP+PPO","step":4.83,"reward":38.0},{"series":"MemUP+PPO","step":4.93,"reward":37.9},{"series":"MemUP+PPO","step":5.0,"reward":38.3},{"series":"MemUP+PPO","step":5.1,"reward":37.8},{"series":"MemUP+PPO","step":5.2,"reward":37.0},{"series":"MemUP+PPO","step":5.3,"reward":38.7},{"series":"MemUP+PPO","step":5.35,"reward":38.3},{"series":"MemUP+PPO","step":5.45,"reward":38.3},{"series":"MemUP+PPO","step":5.6,"reward":37.9},{"series":"MemUP+PPO","step":5.7,"reward":37.8},{"series":"MemUP+PPO","step":5.8,"reward":36.2},{"series":"MemUP+PPO","step":5.9,"reward":38.5},{"series":"MemUP+PPO","step":6.03,"reward":40.2},{"series":"MemUP+PPO","step":6.1,"reward":38.5},{"series":"MemUP+PPO","step":6.22,"reward":40.0},{"series":"MemUP+PPO","step":6.3,"reward":40.4},{"series":"MemUP+PPO","step":6.4,"reward":40.5},{"series":"MemUP+PPO","step":6.5,"reward":41.5},{"series":"MemUP+PPO","step":6.55,"reward":42.7},{"series":"MemUP+PPO","step":6.6,"reward":42.0},{"series":"MemUP+PPO","step":6.67,"reward":44.9},{"series":"MemUP+PPO","step":6.72,"reward":44.0},{"series":"MemUP+PPO","step":6.78,"reward":43.6},{"series":"MemUP+PPO","step":6.85,"reward":44.0},{"series":"MemUP+PPO","step":6.92,"reward":44.4},{"series":"MemUP+PPO","step":7.0,"reward":44.6},{"series":"MemUP+PPO","step":7.07,"reward":45.7},{"series":"MemUP+PPO","step":7.13,"reward":45.4},{"series":"MemUP+PPO","step":7.19,"reward":44.9},{"series":"MemUP+PPO","step":7.3,"reward":46.6},{"series":"MemUP+PPO","step":7.38,"reward":46.3},{"series":"MemUP+PPO","step":7.45,"reward":46.9},{"series":"MemUP+PPO","step":7.52,"reward":47.3},{"series":"MemUP+PPO","step":7.6,"reward":48.3},{"series":"MemUP+PPO","step":7.65,"reward":47.8},{"series":"MemUP+PPO","step":7.7,"reward":47.4},{"series":"MemUP+PPO","step":7.8,"reward":47.8},{"series":"MemUP+PPO","step":7.88,"reward":48.1},{"series":"MemUP+PPO","step":7.95,"reward":48.3},{"series":"MemUP+PPO","step":8.0,"reward":48.0}
    ],
    "notes": [{"step": 8, "label": "1e7"}]
  },
  "encoding": {
    "x": {"field": "step", "type": "quantitative", "scale": {"domain": [0, 8], "nice": false},
      "axis": {"title": "Number of steps", "values": [0,1,2,3,4,5,6,7,8], "format": "d", "labelPadding": 3, "titlePadding": 3, "grid": true}}
  },
  "layer": [
    {
      "data": {"name": "bands"},
      "mark": {"type": "area", "opacity": 0.25, "clip": true},
      "encoding": {
        "y": {"field": "lo", "type": "quantitative", "scale": {"domain": [0, 55], "nice": false},
          "axis": {"title": "Mean Episode Reward", "values": [0,10,20,30,40,50], "labelPadding": 5, "titlePadding": 2}},
        "y2": {"field": "hi"},
        "fill": {"field": "series", "type": "nominal", "legend": null,
          "scale": {"domain": ["MemUP+QRDQN", "MemUP+PPO", "IMPALA-ST(attn=100)"], "range": ["#f03c3c", "#8b2828", "#2b7a2b"]}}
      }
    },
    {
      "data": {"name": "curves"},
      "mark": {"type": "line", "strokeWidth": 2, "clip": true},
      "encoding": {
        "y": {"field": "reward", "type": "quantitative", "scale": {"domain": [0, 55], "nice": false},
          "axis": {"title": "Mean Episode Reward", "values": [0,10,20,30,40,50], "labelPadding": 5, "titlePadding": 2}},
        "color": {"field": "series", "type": "nominal",
          "scale": {"domain": ["PPO-LSTM(r=8)", "PPO-LSTM(r=128)", "AMRL-MAX(r=8)", "AMRL-MAX(r=128)", "IMPALA-ST(attn=8)", "IMPALA-ST(attn=100)", "MemUP pretraining(r=1)", "MemUP+QRDQN", "MemUP+PPO"],
            "range": ["#52c6c6", "#646e6e", "#d6bf3a", "#f5b041", "#5fd35f", "#2b7a2b", "#e83a3a", "#f03c3c", "#8b2828"]},
          "legend": {"title": null, "orient": "none", "legendX": 733, "legendY": 20, "symbolType": "stroke", "symbolSize": 196, "symbolStrokeWidth": 2, "labelFontSize": 12.5, "labelColor": "#262626", "labelOffset": 16, "labelLimit": 300, "rowPadding": 4.8,
            "encode": {"symbols": {"update": {
              "shape": {"signal": "datum.value === 'MemUP pretraining(r=1)' ? 'M-2,0L2,0M0,-0.78L0.175,-0.24L0.742,-0.241L0.283,0.09L0.46,0.632L0,0.296L-0.46,0.632L-0.283,0.09L-0.742,-0.241L-0.175,-0.24Z' : 'M-2,0L2,0'"},
              "fill": {"signal": "datum.value === 'MemUP pretraining(r=1)' ? '#6e0808' : 'transparent'"},
              "strokeWidth": {"signal": "datum.value === 'MemUP pretraining(r=1)' ? 1.1 : 2"}
            }}}}
        }
      }
    },
    {
      "data": {"name": "curves"},
      "transform": [{"filter": "datum.series === 'MemUP pretraining(r=1)'"}],
      "mark": {"type": "point", "shape": "M0,-1L0.223,-0.307L0.951,-0.309L0.361,0.117L0.588,0.809L0,0.38L-0.588,0.809L-0.361,0.117L-0.951,-0.309L-0.223,-0.307Z", "filled": true, "fill": "#7b0c0c", "stroke": "#d02525", "strokeWidth": 0.8, "size": 130, "opacity": 1},
      "encoding": {
        "y": {"field": "reward", "type": "quantitative", "scale": {"domain": [0, 55], "nice": false},
          "axis": {"title": "Mean Episode Reward", "values": [0,10,20,30,40,50], "labelPadding": 5, "titlePadding": 2}}
      }
    },
    {
      "data": {"name": "notes"},
      "mark": {"type": "text", "align": "right", "baseline": "top", "dy": 16, "fontSize": 13, "color": "#262626"},
      "encoding": {
        "y": {"datum": 0, "type": "quantitative"},
        "text": {"field": "label"}
      }
    }
  ]
}
